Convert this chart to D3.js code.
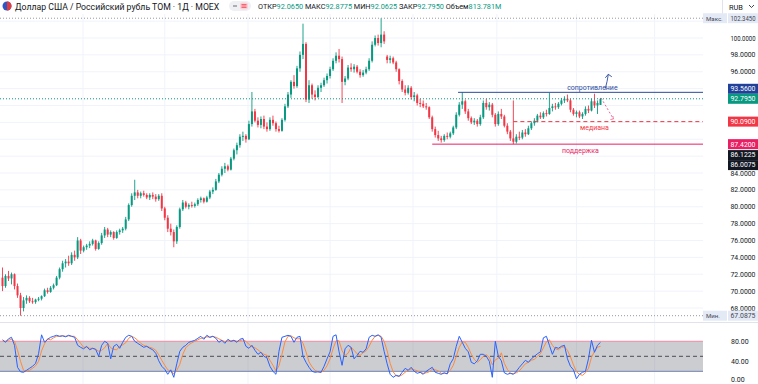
<!DOCTYPE html>
<html><head><meta charset="utf-8">
<script src="https://cdn.jsdelivr.net/npm/d3@7"></script>
<style>body{margin:0;background:#fff;overflow:hidden}svg{display:block;font-family:Roboto,"Liberation Sans",sans-serif}</style>
</head><body><svg id="c" width="758" height="384"></svg>
<script>
const title="Доллар США / Российский рубль ТОМ · 1Д · MOEX";
const ohlcLabels=["ОТКР","МАКС","МИН","ЗАКР","Объем"];
const volumeText="813.781M";
const opens=[71.6,70.6,71.8,71.5,72.0,70.6,69.5,68.0,68.9,69.2,
68.8,68.7,69.0,69.1,69.4,70.1,69.9,70.4,70.7,71.6,
72.6,73.3,73.5,73.3,74.3,74.0,76.0,74.8,75.2,75.4,
75.6,76.0,75.0,75.7,76.6,77.3,76.7,77.0,76.3,77.0,
77.2,77.4,78.5,80.2,81.3,81.7,81.3,81.6,81.4,81.1,
81.4,81.2,80.9,81.3,79.8,78.7,77.4,77.0,75.9,77.6,
79.7,80.5,80.0,80.2,80.1,80.3,80.8,81.0,80.6,81.1,
81.8,82.0,83.0,83.8,84.5,84.8,84.4,85.7,86.7,87.3,
88.3,88.4,88.0,89.8,91.3,90.2,89.7,90.4,89.5,89.2,
90.3,89.9,89.2,89.0,90.3,91.9,93.3,94.8,94.3,96.4,
98.0,99.3,92.7,94.4,93.3,93.0,94.1,94.4,95.0,95.5,
96.3,97.3,97.9,97.5,94.8,95.2,96.5,96.3,96.6,96.0,
95.6,95.9,96.3,97.3,99.2,100.0,99.4,100.4,97.8,97.4,
97.6,97.1,96.3,94.9,93.9,93.5,94.1,93.0,93.2,92.3,
92.2,91.9,91.8,90.6,89.2,88.5,88.1,87.9,88.4,88.3,
88.7,89.4,90.9,92.1,92.5,91.3,90.5,90.0,90.2,89.8,
90.6,92.3,91.8,92.1,90.9,89.8,91.0,90.7,89.6,88.9,
88.1,87.7,88.3,88.2,88.8,88.6,89.3,89.9,90.2,90.8,
90.6,91.1,91.0,91.7,91.9,91.8,92.2,92.6,92.8,92.6,
91.5,91.0,91.2,90.7,91.0,91.6,91.4,92.5,92.0,92.065];
const highs=[72.8,72.0,72.4,72.2,72.1,70.9,69.8,69.3,69.5,69.4,
69.2,69.1,69.3,69.5,70.3,70.4,70.6,70.9,71.8,72.8,
73.6,73.8,74.2,74.6,74.8,76.4,76.2,75.4,75.6,75.9,
76.2,76.1,75.9,76.9,77.6,77.5,77.2,77.1,77.2,77.4,
77.6,78.8,80.4,81.6,83.2,82.0,81.8,81.9,81.6,81.6,
81.7,81.5,81.5,81.6,80.0,79.0,78.0,77.3,77.8,79.9,
80.8,80.7,80.4,80.6,80.5,81.0,81.2,81.1,81.3,82.0,
82.3,83.3,84.0,84.8,85.2,85.0,85.9,86.9,87.6,88.6,
88.9,88.6,90.2,93.6,91.6,90.6,90.7,90.8,90.0,90.6,
90.8,90.1,89.6,90.5,92.2,93.6,95.0,95.6,96.7,98.4,
101.7,99.5,95.0,94.6,93.8,94.4,94.7,95.3,95.8,96.6,
97.6,98.3,98.7,97.8,95.5,96.8,97.0,96.9,96.8,96.3,
96.2,96.6,97.6,99.6,100.3,100.4,102.345,100.8,98.0,97.9,
97.8,97.3,96.4,95.1,94.4,94.4,94.3,93.6,93.4,92.8,
92.6,92.3,91.9,90.8,89.5,89.0,88.4,88.6,88.8,88.9,
89.6,91.2,92.4,93.56,92.7,91.6,90.7,90.5,90.4,90.9,
92.6,92.8,92.4,92.3,91.1,91.3,91.6,90.9,89.9,89.1,
92.6,88.6,88.9,89.1,89.2,89.6,90.1,90.5,91.0,91.2,
91.3,91.5,93.5,92.2,92.3,92.4,92.9,93.1,93.3,92.8,
91.7,91.4,91.4,91.2,91.9,92.0,92.8,93.4,92.6,92.8775];
const lows=[70.0,70.4,71.2,70.8,70.2,69.2,67.0875,67.6,68.5,68.6,
68.5,68.5,68.8,68.9,69.3,69.7,69.8,70.2,70.6,71.4,
72.3,72.8,73.0,73.1,73.6,73.8,74.4,74.6,74.9,75.1,
75.4,74.8,74.9,75.5,76.3,76.4,76.4,76.1,76.2,76.7,
76.9,77.2,78.3,80.0,80.8,81.0,81.0,81.2,80.9,80.8,
80.9,80.6,80.7,79.5,78.4,77.0,76.6,75.2,75.6,77.4,
79.5,79.8,79.7,79.9,79.9,80.1,80.5,80.4,80.5,80.9,
81.5,81.9,82.8,83.6,84.0,84.2,84.3,85.5,86.2,87.0,
87.8,87.6,87.9,89.5,90.0,89.4,89.3,89.2,88.9,89.0,
89.6,88.9,88.8,88.9,90.1,91.7,92.9,94.0,94.1,96.0,
97.5,92.4,92.3,92.8,92.6,92.9,93.6,94.2,94.6,95.2,
96.1,97.0,97.1,92.3,94.4,95.0,96.0,95.9,95.8,95.3,
95.4,95.7,96.1,97.1,99.0,99.1,98.9,99.3,97.0,97.0,
96.9,96.0,94.5,93.6,93.2,93.3,92.7,92.5,92.0,91.8,
91.7,91.5,90.4,88.9,88.2,87.8,87.6,87.7,88.0,88.1,
88.5,89.2,90.7,91.6,91.0,90.2,89.8,89.7,89.5,89.6,
90.4,91.5,91.4,90.6,89.5,89.6,90.4,89.4,88.6,87.8,
87.42,87.5,87.9,88.0,88.3,88.5,89.1,89.6,90.0,90.4,
90.4,90.7,90.9,91.3,91.5,91.6,92.0,92.3,92.4,91.2,
90.8,90.6,90.5,90.4,90.8,91.1,91.3,91.7,91.0,92.0625];
const closes=[70.6,71.8,71.5,72.0,70.6,69.5,68.0,68.9,69.2,68.8,
68.7,69.0,69.1,69.4,70.1,69.9,70.4,70.7,71.6,72.6,
73.3,73.5,73.3,74.3,74.0,76.0,74.8,75.2,75.4,75.6,
76.0,75.0,75.7,76.6,77.3,76.7,77.0,76.3,77.0,77.2,
77.4,78.5,80.2,81.3,81.7,81.3,81.6,81.4,81.1,81.4,
81.2,80.9,81.3,79.8,78.7,77.4,77.0,75.9,77.6,79.7,
80.5,80.0,80.2,80.1,80.3,80.8,81.0,80.6,81.1,81.8,
82.0,83.0,83.8,84.5,84.8,84.4,85.7,86.7,87.3,88.3,
88.4,88.0,89.8,91.3,90.2,89.7,90.4,89.5,89.2,90.3,
89.9,89.2,89.0,90.3,91.9,93.3,94.8,94.3,96.4,98.0,
99.3,92.7,94.4,93.3,93.0,94.1,94.4,95.0,95.5,96.3,
97.3,97.9,97.5,94.8,95.2,96.5,96.3,96.6,96.0,95.6,
95.9,96.3,97.3,99.2,100.0,99.4,100.4,99.6,97.4,97.6,
97.1,96.3,94.9,93.9,93.5,94.1,93.0,93.2,92.3,92.2,
91.9,91.8,90.6,89.2,88.5,88.1,87.9,88.4,88.3,88.7,
89.4,90.9,92.1,92.5,91.3,90.5,90.0,90.2,89.8,90.6,
92.3,91.8,92.1,90.9,89.8,91.0,90.7,89.6,88.9,88.1,
87.7,88.3,88.2,88.8,88.6,89.3,89.9,90.2,90.8,90.6,
91.1,91.0,91.7,91.9,91.8,92.2,92.6,92.8,92.6,91.5,
91.0,91.2,90.7,91.0,91.6,91.4,92.5,92.0,92.3,92.795];
const stochK=[83,78,85,88,72,28,19,18,22,26,
30,36,55,93,78,84,88,90,92,90,
91,89,92,90,88,72,68,65,70,63,
66,64,50,72,80,76,45,70,74,66,
78,88,92,90,80,76,72,68,70,66,
63,56,41,30,24,14,23,8,35,60,
68,72,78,80,82,86,90,84,92,88,
90,86,78,82,76,84,80,82,78,84,
86,70,66,72,62,54,58,50,47,30,
20,14,60,88,90,92,90,78,88,90,
50,38,28,20,18,19,18,30,45,59,
90,93,59,32,65,72,68,45,52,60,
58,65,88,92,90,93,88,60,35,14,
8,12,10,18,26,22,28,20,16,18,
14,20,24,28,18,16,14,17,15,35,
45,70,90,78,66,59,38,35,41,54,
54,50,40,8,80,50,41,17,14,16,
14,20,28,35,42,38,45,50,55,59,
87,90,72,54,68,66,70,72,45,30,
23,5,14,18,20,45,82,58,72,78];
const stochD=[80,80,82,84,80,62,40,22,20,22,
26,31,40,61,75,85,83,87,90,90,
91,90,91,90,90,83,76,68,68,66,
66,64,60,62,67,76,67,64,63,70,
73,77,86,90,87,82,76,72,70,68,
66,62,53,42,32,23,20,15,22,34,
54,67,73,77,80,83,86,87,89,88,
90,88,85,82,79,81,80,82,80,81,
83,80,74,69,67,63,58,54,52,42,
32,21,31,54,79,90,91,87,85,85,
76,59,39,29,22,19,18,22,31,45,
65,81,81,61,52,56,68,62,55,52,
57,61,70,82,90,92,90,80,61,36,
19,11,10,13,18,22,25,23,21,18,
16,17,19,24,23,21,16,16,15,22,
32,50,68,79,78,68,54,44,38,43,
50,53,48,33,43,46,57,36,24,16,
15,17,21,28,35,38,42,44,50,55,
67,79,83,72,65,63,68,69,62,49,
33,19,14,12,17,26,48,60,68,70];
const priceTicks=[68,70,72,74,76,78,80,82,84,86,88,90,92,94,96,98,100,102];
const stochTicks=[0,40,80];
const stochBands=[20,50,80];
const gridIdx=[26.8,54,81.7,109,136.6,164.5,191,217];
// drawn levels: resistance, median, support
const levelValues=[93.56,90.09,87.42];
const levelStart=[151.6,170,143];
const levelNames=["сопротивление","медиана","поддержка"];
const extraMarks=[86.1225,86.0075];

const svg=d3.select('#c');
const N=closes.length, plotR=703;
const xl=d3.scaleLinear().domain([0,N-1]).range([2.5,600.5]);
const y=d3.scaleLinear().domain([68,100]).range([308,38]);
const ys=d3.scaleLinear().domain([0,100]).range([381.3,331.3]);
const hiV=d3.max(highs), loV=d3.min(lows), last=closes[N-1];
const f4=d3.format(".4f");
const AX_FS=6.4;

const defs=svg.append('defs');
defs.append('clipPath').attr('id','cm').append('rect').attr('x',0).attr('y',0).attr('width',plotR).attr('height',322);
defs.append('clipPath').attr('id','cs').append('rect').attr('x',0).attr('y',323).attr('width',plotR).attr('height',61);

// grids
const g=svg.append('g');
g.selectAll('.hg').data(priceTicks).join('line').attr('x1',0).attr('x2',plotR)
 .attr('y1',d=>y(d)).attr('y2',d=>y(d)).attr('stroke','#f0f3fa');
g.selectAll('.vg').data(gridIdx).join('line').attr('x1',d=>xl(d)).attr('x2',d=>xl(d))
 .attr('y1',14).attr('y2',384).attr('stroke','#f0f3fa');
svg.append('line').attr('x1',0).attr('x2',758).attr('y1',322.5).attr('y2',322.5).attr('stroke','#e0e3eb');

// header
const hd=svg.append('g');
hd.append('circle').attr('cx',7).attr('cy',6).attr('r',4.5).attr('fill','#2f57c4');
hd.append('path').attr('d','M7,1.5 A4.5,4.5 0 0 1 7,10.5 Z').attr('fill','#e23b3b');
hd.append('text').attr('x',15).attr('y',9.6).attr('font-size',8.7).attr('fill','#131722').text(title);
hd.append('rect').attr('x',229).attr('y',1).attr('width',22).attr('height',10).attr('rx',5).attr('fill','#eef0f4');
hd.append('line').attr('x1',233).attr('x2',237).attr('y1',6).attr('y2',6).attr('stroke','#6a6d78');
hd.append('rect').attr('x',240).attr('y',2.5).attr('width',8).attr('height',7).attr('rx',2).attr('fill','#fbd0d8');
[4.5,6,7.5].forEach(v=>hd.append('line').attr('x1',241.5).attr('x2',246.5).attr('y1',v).attr('y2',v).attr('stroke','#f23645').attr('stroke-width',0.7));
const ohlcVals=[f4(opens[N-1]),f4(highs[N-1]),f4(lows[N-1]),f4(closes[N-1]),volumeText];
const ot=hd.append('text').attr('x',258).attr('y',9.3).attr('font-size',7.3);
ohlcLabels.forEach((l,i)=>{
  ot.append('tspan').attr('fill','#131722').text((i?' ':'')+l);
  ot.append('tspan').attr('fill','#089981').text(ohlcVals[i]);
});
hd.append('line').attr('x1',722.5).attr('x2',722.5).attr('y1',0).attr('y2',14).attr('stroke','#e0e3eb');
hd.append('text').attr('x',729).attr('y',9.5).attr('font-size',7.4).attr('fill','#131722').text('RUB');
hd.append('path').attr('d','M749,5 L751.5,7.5 L754,5').attr('fill','none').attr('stroke','#131722').attr('stroke-width',0.8);

// candles
const cg=svg.append('g').attr('clip-path','url(#cm)');
const idx=d3.range(N);
const col=i=>closes[i]>=opens[i]?'#089981':'#f23645';
cg.selectAll('.w').data(idx).join('line').attr('x1',i=>xl(i)).attr('x2',i=>xl(i))
 .attr('y1',i=>y(highs[i])).attr('y2',i=>y(lows[i])).attr('stroke',col).attr('stroke-width',0.9);
cg.selectAll('.b').data(idx).join('rect').attr('x',i=>xl(i)-1).attr('width',2)
 .attr('y',i=>y(Math.max(opens[i],closes[i])))
 .attr('height',i=>Math.max(1,Math.abs(y(opens[i])-y(closes[i])))).attr('fill',col);

// dotted lines
const dl=svg.append('g');
[[hiV,'#9598a1'],[loV,'#9598a1'],[last,'#089981']].forEach(([v,c])=>{
  dl.append('line').attr('x1',0).attr('x2',plotR).attr('y1',y(v)).attr('y2',y(v))
    .attr('stroke',c).attr('stroke-dasharray','1,2');
});

// drawings
const dr=svg.append('g').attr('clip-path','url(#cm)');
const lvlCol=['#2a4a9f','#f23645','#e91e63'];
levelValues.forEach((v,k)=>{
  dr.append('line').attr('x1',xl(levelStart[k])).attr('x2',plotR).attr('y1',y(v)).attr('y2',y(v))
   .attr('stroke',lvlCol[k]).attr('stroke-width',1).attr('stroke-dasharray',k===1?'4,3':null);
});
dr.append('text').attr('x',xl(196.3)).attr('y',y(levelValues[0])-2.5).attr('text-anchor','middle')
  .attr('font-size',7).attr('fill',lvlCol[0]).text(levelNames[0]);
dr.append('text').attr('x',xl(197)).attr('y',y(levelValues[1])+8.5).attr('text-anchor','middle')
  .attr('font-size',7).attr('fill',lvlCol[1]).text(levelNames[1]);
dr.append('text').attr('x',xl(192.3)).attr('y',y(levelValues[2])+9).attr('text-anchor','middle')
  .attr('font-size',7).attr('fill',lvlCol[2]).text(levelNames[2]);
// up arrow
const a0=[xl(200.6),y(94.0)], a1=[xl(201.6),y(95.7)];
dr.append('path').attr('d',`M${a0[0]},${a0[1]} Q${a0[0]+2},${(a0[1]+a1[1])/2} ${a1[0]},${a1[1]}`)
  .attr('fill','none').attr('stroke','#2a4a9f').attr('stroke-width',0.9);
dr.append('path').attr('d',`M${a1[0]-3},${a1[1]+3.5} L${a1[0]},${a1[1]} L${a1[0]+3.5},${a1[1]+2.5}`)
  .attr('fill','none').attr('stroke','#2a4a9f').attr('stroke-width',0.9);
// projection dashed
const p0=[xl(199.2),y(92.9)], p1=[xl(203.3),y(90.4)];
dr.append('line').attr('x1',p0[0]).attr('y1',p0[1]).attr('x2',p1[0]).attr('y2',p1[1])
  .attr('stroke','#f06292').attr('stroke-dasharray','2,2');
dr.append('path').attr('d',`M${p1[0]-3},${p1[1]+0.5} L${p1[0]},${p1[1]} L${p1[0]-0.5},${p1[1]-3}`)
  .attr('fill','none').attr('stroke','#f06292').attr('stroke-width',0.8);

// axis labels (boxes) positions
const labVals=[hiV,levelValues[0],last,levelValues[1],levelValues[2],extraMarks[0],extraMarks[1],loV];
const labBg=['#e3eaf6','#21409a','#089981','#f23645','#e91e63','#131722','#131722','#e3eaf6'];
const labFg=['#434651','#fff','#fff','#fff','#fff','#fff','#fff','#434651'];
const bh=10;
const ly=labVals.map(v=>y(v));
const li=2;
for(let k=li-1;k>=0;k--){ if(ly[k]>ly[k+1]-bh) ly[k]=ly[k+1]-bh; }
for(let k=li+1;k<ly.length;k++){ if(ly[k]<ly[k-1]+bh) ly[k]=ly[k-1]+bh; }

// price axis (ticks hidden under label boxes are skipped)
const visTicks=priceTicks.filter(t=>ly.every(v=>Math.abs(y(t)-v)>7.2));
const ax=svg.append('g').attr('transform','translate(728,0)')
  .call(d3.axisRight(y).tickValues(visTicks).tickFormat(f4).tickSize(0).tickPadding(2.5));
ax.select('.domain').remove();
ax.selectAll('text').attr('font-size',AX_FS).attr('fill','#131722').attr('font-family','Roboto,sans-serif')
  .attr('textLength',25).attr('lengthAdjust','spacingAndGlyphs');

const lg=svg.append('g');
labVals.forEach((v,k)=>{
  lg.append('rect').attr('x',728).attr('y',ly[k]-bh/2).attr('width',30).attr('height',bh).attr('fill',labBg[k]);
  lg.append('text').attr('x',730.5).attr('y',ly[k]+2.4).attr('font-size',AX_FS).attr('fill',labFg[k])
    .attr('textLength',25).attr('lengthAdjust','spacingAndGlyphs').text(f4(v));
});
[[hiV,'Макс.'],[loV,'Мин.']].forEach(([v,t])=>{
  lg.append('rect').attr('x',703).attr('y',y(v)-bh/2).attr('width',24).attr('height',bh).attr('fill','#e3eaf6');
  lg.append('text').attr('x',706).attr('y',y(v)+2.4).attr('font-size',6.1).attr('fill','#434651').text(t);
});

// stochastic
const sg=svg.append('g').attr('clip-path','url(#cs)');
sg.append('rect').attr('x',0).attr('width',plotR).attr('y',ys(stochBands[2])).attr('height',ys(stochBands[0])-ys(stochBands[2]))
  .attr('fill','rgba(120,123,134,0.38)');
sg.append('line').attr('x1',0).attr('x2',plotR).attr('y1',ys(stochBands[2])).attr('y2',ys(stochBands[2])).attr('stroke','#ec9bb1').attr('stroke-width',1.2);
sg.append('line').attr('x1',0).attr('x2',plotR).attr('y1',ys(stochBands[0])).attr('y2',ys(stochBands[0])).attr('stroke','#8797bd').attr('stroke-width',1.2);
sg.append('line').attr('x1',0).attr('x2',plotR).attr('y1',ys(stochBands[1])).attr('y2',ys(stochBands[1])).attr('stroke','#4a4d57').attr('stroke-dasharray','4,3');
const ln=d3.line().x((d,i)=>xl(i)).y(d=>ys(d));
sg.append('path').datum(stochD).attr('d',ln).attr('fill','none').attr('stroke','#ff8a3d').attr('stroke-width',1);
sg.append('path').datum(stochK).attr('d',ln).attr('fill','none').attr('stroke','#2962ff').attr('stroke-width',1);
const sax=svg.append('g').attr('transform','translate(728,0)')
  .call(d3.axisRight(ys).tickValues(stochTicks).tickFormat(d3.format(".2f")).tickSize(0).tickPadding(3));
sax.select('.domain').remove();
sax.selectAll('text').attr('font-size',7).attr('fill','#131722').attr('font-family','Roboto,sans-serif')
  .attr('dy',d=>d===0?'0.05em':'0.32em');
</script></body></html>
